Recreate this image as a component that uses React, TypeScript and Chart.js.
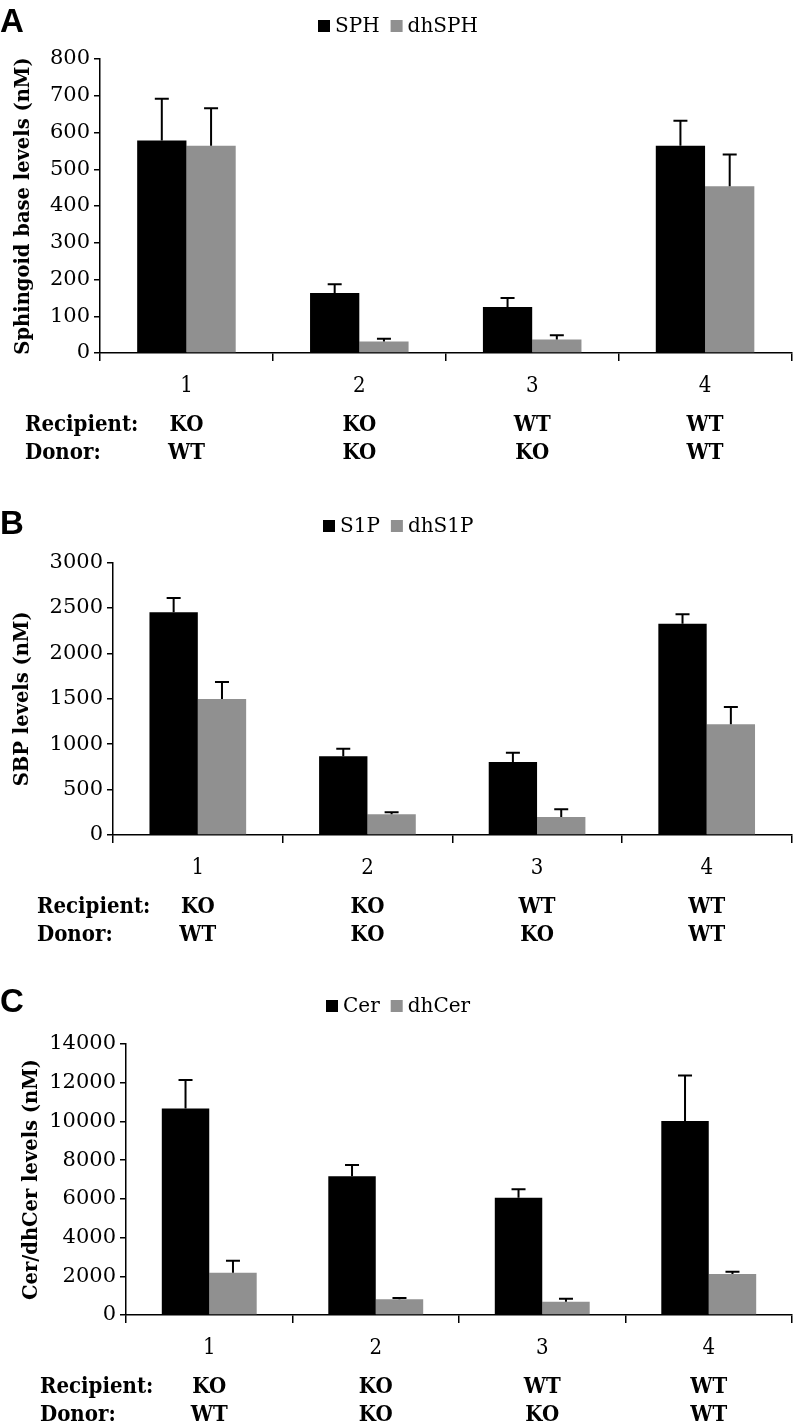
import React, { useEffect, useRef } from 'react';
import { Chart, registerables } from 'chart.js';

Chart.register(...registerables);

// ---------- data ----------
const categories = ['1', '2', '3', '4'];
const recipients = ['KO', 'KO', 'WT', 'WT'];
const donors = ['WT', 'KO', 'KO', 'WT'];

// Panel A
const sphValues = [578, 163, 125, 564];
const sphErrors = [114, 24, 25, 68];
const dhSphValues = [564, 31, 37, 454];
const dhSphErrors = [102, 8, 11, 86];

// Panel B
const s1pValues = [2452, 866, 804, 2327];
const s1pErrors = [158, 84, 102, 103];
const dhS1pValues = [1497, 228, 198, 1219];
const dhS1pErrors = [188, 22, 85, 191];

// Panel C
const cerValues = [10662, 7168, 6062, 10026];
const cerErrors = [1483, 584, 432, 2341];
const dhCerValues = [2186, 811, 687, 2119];
const dhCerErrors = [620, 68, 155, 119];

const BLACK = '#000000';
const GRAY = '#909090';
const W = 796;

const panels = [
  {
    letter: 'A',
    top: 0,
    height: 475,
    yTitle: 'Sphingoid base levels (nM)',
    yMax: 800,
    yStep: 100,
    series: [
      { label: 'SPH', data: sphValues, errors: sphErrors, color: BLACK },
      { label: 'dhSPH', data: dhSphValues, errors: dhSphErrors, color: GRAY },
    ],
    L: { left: 100, right: 791.5, top: 59, bottom: 353, letterBase: 32, legendX: 318, legendY: 26, titleX: 24, rowX: 25 },
  },
  {
    letter: 'B',
    top: 475,
    height: 475,
    yTitle: 'SBP levels (nM)',
    yMax: 3000,
    yStep: 500,
    series: [
      { label: 'S1P', data: s1pValues, errors: s1pErrors, color: BLACK },
      { label: 'dhS1P', data: dhS1pValues, errors: dhS1pErrors, color: GRAY },
    ],
    L: { left: 113, right: 791.5, top: 87.6, bottom: 360, letterBase: 59, legendX: 323, legendY: 51, titleX: 23, rowX: 37 },
  },
  {
    letter: 'C',
    top: 950,
    height: 473,
    yTitle: 'Cer/dhCer levels (nM)',
    yMax: 14000,
    yStep: 2000,
    series: [
      { label: 'Cer', data: cerValues, errors: cerErrors, color: BLACK },
      { label: 'dhCer', data: dhCerValues, errors: dhCerErrors, color: GRAY },
    ],
    L: { left: 126, right: 792, top: 94, bottom: 365, letterBase: 62, legendX: 326, legendY: 56, titleX: 32, rowX: 40 },
  },
];

const SERIF = '"DejaVu Serif", serif';
const SERIF_COND = '"DejaVu Serif Condensed", "DejaVu Serif", serif';
const TITLE_SIZE = 19.5;

function Panel({ spec }: { spec: any }) {
  const ref = useRef<HTMLCanvasElement | null>(null);

  useEffect(() => {
    const L = spec.L;

    const errorBars = {
      id: 'errorBars',
      afterDatasetsDraw(chart: any) {
        const ctx = chart.ctx;
        const yScale = chart.scales.y;
        ctx.save();
        ctx.strokeStyle = '#000';
        ctx.lineWidth = 2;
        chart.data.datasets.forEach((ds: any, i: number) => {
          const meta = chart.getDatasetMeta(i);
          meta.data.forEach((el: any, j: number) => {
            const v = ds.data[j];
            const e = ds.errors[j];
            const yTop = yScale.getPixelForValue(v);
            const yCap = yScale.getPixelForValue(v + e);
            ctx.beginPath();
            ctx.moveTo(el.x, yTop);
            ctx.lineTo(el.x, yCap);
            ctx.moveTo(el.x - 7, yCap);
            ctx.lineTo(el.x + 7, yCap);
            ctx.stroke();
          });
        });
        ctx.restore();
      },
    };

    const decor = {
      id: 'decor',
      afterDraw(chart: any) {
        const ctx = chart.ctx;
        const xScale = chart.scales.x;
        ctx.save();
        ctx.fillStyle = '#000';
        // panel letter
        ctx.font = 'bold 33px "Liberation Sans", Arial, sans-serif';
        ctx.textAlign = 'left';
        ctx.textBaseline = 'alphabetic';
        ctx.fillText(spec.letter, 0, L.letterBase);
        // legend
        ctx.font = '20px ' + SERIF;
        ctx.textBaseline = 'middle';
        let x = L.legendX;
        chart.data.datasets.forEach((ds: any) => {
          ctx.fillStyle = ds.backgroundColor;
          ctx.fillRect(x, L.legendY - 6, 12, 12);
          ctx.fillStyle = '#000';
          ctx.fillText(ds.label, x + 17, L.legendY + 1);
          x += 17 + ctx.measureText(ds.label).width + 11;
        });
        // recipient / donor rows
        ctx.font = 'bold 22px ' + SERIF_COND;
        const rows = [
          { name: 'Recipient:', vals: recipients, y: L.bottom + 72 },
          { name: 'Donor:', vals: donors, y: L.bottom + 100 },
        ];
        rows.forEach((r) => {
          ctx.textAlign = 'left';
          ctx.fillText(r.name, L.rowX, r.y);
          ctx.textAlign = 'center';
          r.vals.forEach((t, i) => {
            ctx.fillText(t, xScale.getPixelForValue(i), r.y);
          });
        });
        ctx.restore();
      },
    };

    const chart = new Chart(ref.current as HTMLCanvasElement, {
      type: 'bar',
      data: {
        labels: categories,
        datasets: spec.series.map((s: any) => ({
          label: s.label,
          data: s.data,
          errors: s.errors,
          backgroundColor: s.color,
          borderWidth: 0,
          categoryPercentage: 0.57,
          barPercentage: 1.0,
        })),
      },
      options: {
        animation: false,
        responsive: false,
        maintainAspectRatio: false,
        layout: { padding: { top: L.top, right: W - L.right, bottom: 0, left: 0 } },
        plugins: {
          legend: { display: false },
          tooltip: { enabled: false },
          title: { display: false },
        },
        scales: {
          x: {
            grid: {
              offset: true,
              drawOnChartArea: false,
              drawTicks: true,
              tickLength: 8,
              color: '#000',
              lineWidth: 1.5,
            },
            border: { display: true, color: '#000', width: 1.5 },
            ticks: {
              color: '#000',
              font: { family: SERIF_COND, size: 22 },
              padding: 12,
            },
            afterFit: (s: any) => {
              s.height = spec.height - L.bottom;
            },
          },
          y: {
            min: 0,
            max: spec.yMax,
            ticks: {
              stepSize: spec.yStep,
              color: '#000',
              font: { family: SERIF, size: 21 },
              padding: 4,
              callback: (v: any) => String(v),
            },
            grid: {
              drawOnChartArea: false,
              drawTicks: true,
              tickLength: 6,
              color: '#000',
              lineWidth: 1.5,
            },
            border: { display: true, color: '#000', width: 1.5 },
            title: {
              display: true,
              text: spec.yTitle,
              color: '#000',
              font: { family: SERIF, size: TITLE_SIZE, weight: 'bold' },
              padding: { top: L.titleX - TITLE_SIZE * 0.6, bottom: 0 },
            },
            afterFit: (s: any) => {
              s.width = L.left;
            },
          },
        },
      } as any,
      plugins: [errorBars, decor],
    });
    return () => chart.destroy();
  }, [spec]);

  return (
    <canvas
      ref={ref}
      width={W}
      height={spec.height}
      style={{ position: 'absolute', left: 0, top: spec.top, width: W, height: spec.height }}
    />
  );
}

export default function App() {
  return (
    <div style={{ position: 'absolute', left: 0, top: 0, width: W, height: 1423, background: '#fff' }}>
      {panels.map((p) => (
        <Panel key={p.letter} spec={p} />
      ))}
    </div>
  );
}
